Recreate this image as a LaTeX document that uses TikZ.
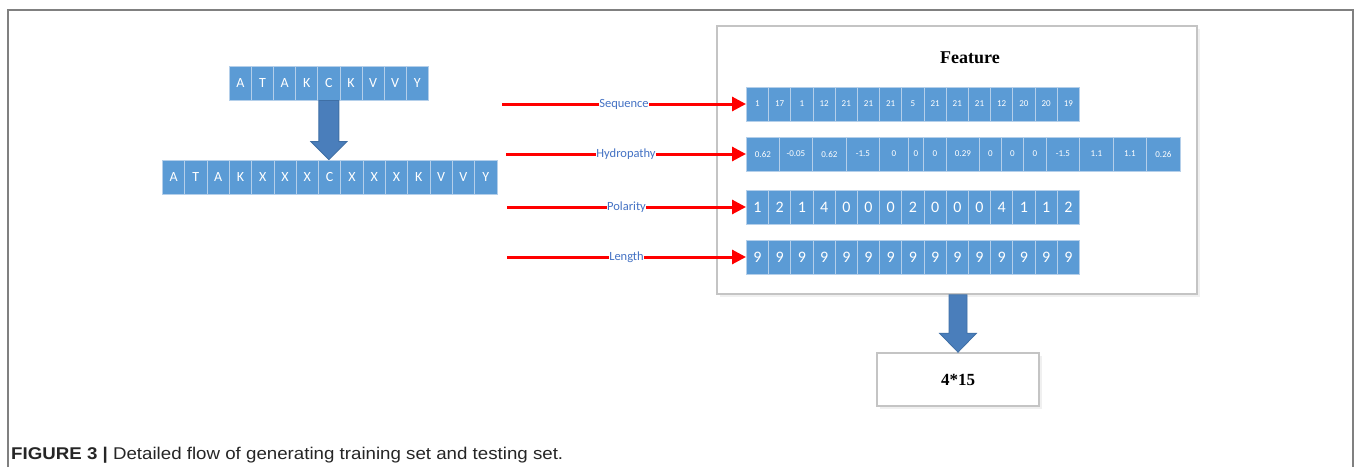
\documentclass[tikz,border=0pt]{standalone}
\usepackage{fontspec}
\usepackage{graphicx}
\setmainfont{Liberation Serif}
\newfontfamily\carl{Carlito}
\newfontfamily\capfont{Liberation Sans}
\usetikzlibrary{arrows.meta,calc}
\definecolor{cellblue}{HTML}{5B9BD5}
\definecolor{cellline}{HTML}{B4CFEA}
\definecolor{blockblue}{HTML}{4A7EBB}
\definecolor{blockedge}{HTML}{3F6FA5}
\definecolor{labelblue}{HTML}{4472C4}
\definecolor{framegray}{HTML}{808080}
\definecolor{boxgray}{HTML}{C4C4C4}
\tikzset{
  cell/.style={fill=cellblue, draw=cellline, line width=0.8pt, text=white,
    inner sep=0pt, anchor=west, minimum height=34pt},
  letter/.style={font=\carl\fontsize{14}{14}\selectfont},
  tiny/.style={font=\carl\fontsize{9}{9}\selectfont},
  big/.style={font=\carl\fontsize{16}{16}\selectfont},
  redarr/.style={draw=red, line width=3pt, -{Triangle[length=14pt,width=14pt]}},
  lab/.style={fill=white, inner sep=0.5pt, text=labelblue, font=\carl\fontsize{12.5}{12.5}\selectfont},
  block/.style={fill=blockblue, draw=blockedge, line width=0.8pt},
  graybox/.style={draw=boxgray, line width=1.6pt, fill=white, inner sep=0pt},
}
\begin{document}
\begin{tikzpicture}[x=1pt,y=-1pt]
\useasboundingbox (0,0) rectangle (1355,467);
\fill[white] (0,0) rectangle (1355,467);
% outer frame
\draw[framegray, line width=1.4pt] (8,467) -- (8,10) -- (1353,10) -- (1353,467);

% feature box
\fill[black!6] (720,29) rectangle (1200,297);
\node[graybox, minimum width=480pt, minimum height=268pt] (fbox) at (957,160) {};
\node[font=\bfseries\fontsize{18}{18}\selectfont] (feat) at (970,58) {Feature};

% top sequence
\foreach \t [count=\i] in {A,T,A,K,C,K,V,V,Y}
  \node[cell, letter, minimum width=22.1pt] (t\i) at ({229+(\i-1)*22.1},83) {\t};
% expanded sequence
\foreach \t [count=\i] in {A,T,A,K,X,X,X,C,X,X,X,K,V,V,Y}
  \node[cell, letter, minimum width=22.3pt] (b\i) at ({162+(\i-1)*22.3},177) {\t};

% block arrow 1
\coordinate (tipA) at (t5.south |- b8.north);
\filldraw[block] ($(t5.south)+(-10,0)$) -- ($(t5.south)+(10,0)$)
  -- ($(tipA)+(10,-18)$) -- ($(tipA)+(18,-18)$) -- (tipA)
  -- ($(tipA)+(-18,-18)$) -- ($(tipA)+(-10,-18)$) -- cycle;

% feature row 1
\foreach \t [count=\i] in {1,17,1,12,21,21,21,5,21,21,21,12,20,20,19}
  \node[cell, tiny, minimum width=22.2pt] (fa\i) at ({746+(\i-1)*22.2},104) {\t};
% feature row 2 (hydropathy)
\foreach \a/\b/\t [count=\i] in {746/779/0.62,779/812/-0.05,812/846/0.62,846/879/-1.5,
   879/908/0,908/923/0,923/946/0,946/979/0.29,979/1001/0,1001/1023/0,1023/1046/0,
   1046/1079/-1.5,1079/1113/1.1,1113/1146/1.1,1146/1180/0.26}
  \node[cell, tiny, minimum width={(\b-\a)*1pt}] (fb\i) at (\a,154) {\t};
% feature row 3 (polarity)
\foreach \t [count=\i] in {1,2,1,4,0,0,0,2,0,0,0,4,1,1,2}
  \node[cell, big, minimum width=22.2pt] (fc\i) at ({746+(\i-1)*22.2},207) {\t};
% feature row 4 (length)
\foreach \t [count=\i] in {9,9,9,9,9,9,9,9,9,9,9,9,9,9,9}
  \node[cell, big, minimum width=22.2pt] (fd\i) at ({746+(\i-1)*22.2},257) {\t};

% red arrows
\coordinate (sA) at (502,104);
\coordinate (sB) at (506,154);
\coordinate (sC) at (507,207);
\coordinate (sD) at (507,257);
\draw[redarr] (sA) -- (fa1.west) node[midway, lab] {Sequence};
\draw[redarr] (sB) -- (fb1.west) node[midway, lab] {Hydropathy};
\draw[redarr] (sC) -- (fc1.west) node[midway, lab] {Polarity};
\draw[redarr] (sD) -- (fd1.west) node[midway, lab] {Length};

% result box
\fill[black!6] (880,356) rectangle (1042,409);
\node[graybox, minimum width=162pt, minimum height=53pt,
  font=\bfseries\fontsize{17}{17}\selectfont] (res) at (958,379.5) {4*15};

% block arrow 2
\filldraw[block] ($(fbox.south)+(-8,0)$) -- ($(fbox.south)+(10,0)$)
  -- ($(res.north)+(9,-19)$) -- ($(res.north)+(18.5,-19)$) -- (res.north)
  -- ($(res.north)+(-18.5,-19)$) -- ($(res.north)+(-9,-19)$) -- cycle;

% caption
\node[anchor=base west, inner sep=0pt, text=black!85] (cap) at (11,459)
  {\capfont\fontsize{17}{17}\selectfont\resizebox{552pt}{\height}{\textbf{FIGURE 3 |} Detailed flow of generating training set and testing set.}};
\end{tikzpicture}
\end{document}
